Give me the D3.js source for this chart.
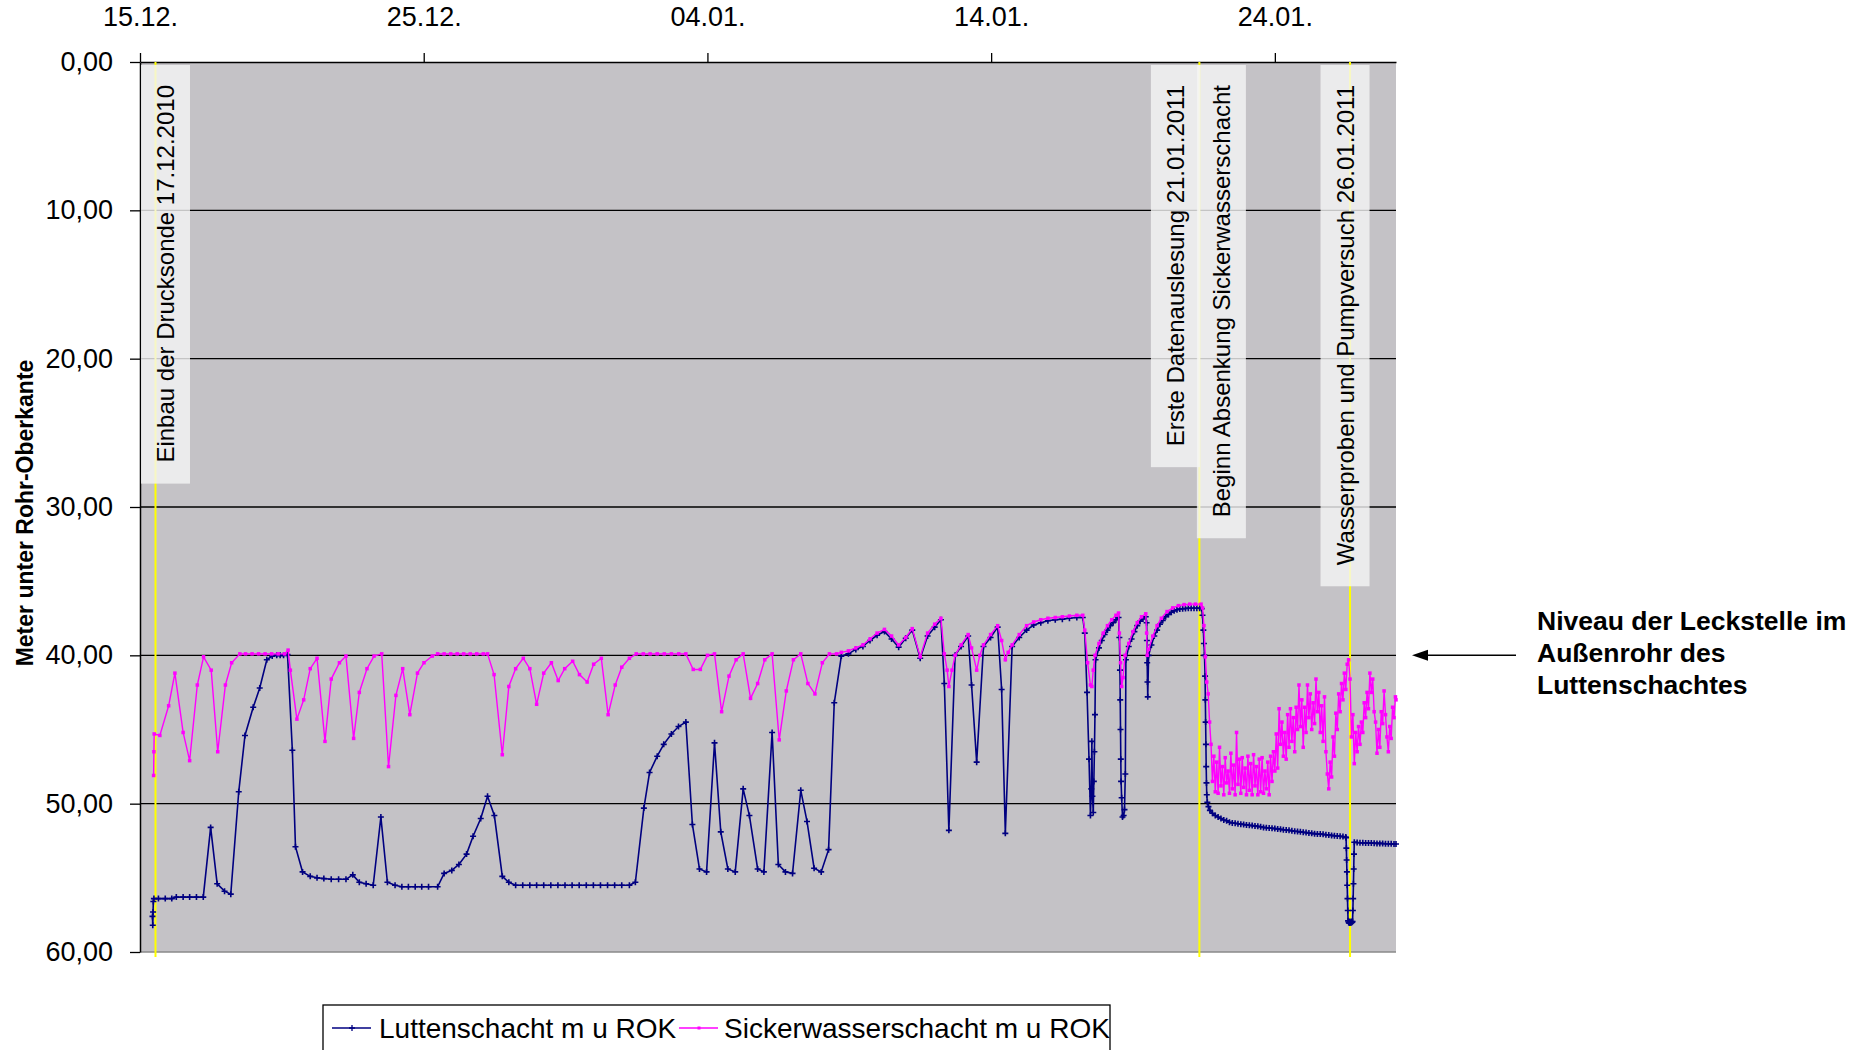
<!DOCTYPE html>
<html lang="de">
<head>
<meta charset="UTF-8">
<title>Luttenschacht / Sickerwasserschacht</title>
<script src="https://d3js.org/d3.v7.min.js"></script>
<style>
  body { margin: 0; background: #fff; }
  svg { display: block; font-family: Arial, "Liberation Sans", sans-serif; }
</style>
</head>
<body>
<svg id="chart"></svg>
<script>
// Zeit in Tagen ab 15.12.2010 00:00, Werte in Meter unter Rohr-Oberkante
var lutten = [
  [0.44,57.6],[0.45,58.2],[0.46,57.3],[0.47,56.6],[0.49,56.4],
  [0.65,56.4],[0.89,56.4],[1.12,56.4],[1.28,56.3],[1.52,56.3],[1.75,56.3],[1.99,56.3],[2.23,56.3],
  [2.49,51.6],[2.72,55.4],[2.98,55.9],[3.2,56.1],[3.48,49.2],[3.7,45.4],[3.99,43.5],[4.22,42.2],
  [4.47,40.3],[4.66,40.05],[4.82,40.0],[4.94,40.0],[5.06,40.0],[5.2,39.95],
  [5.37,46.4],[5.48,52.9],[5.73,54.6],[6.0,54.9],[6.24,55.0],[6.48,55.05],[6.74,55.1],[7.0,55.1],
  [7.26,55.1],[7.5,54.8],[7.73,55.3],[7.97,55.4],[8.22,55.5],
  [8.49,50.9],[8.72,55.3],[8.99,55.5],[9.23,55.6],[9.46,55.6],[9.7,55.6],[9.93,55.6],[10.17,55.6],[10.49,55.6],
  [10.72,54.7],[10.99,54.5],[11.24,54.1],[11.51,53.4],[11.74,52.2],[12.01,51.0],[12.25,49.5],[12.49,50.8],
  [12.77,54.9],[13.0,55.3],
  [13.24,55.5],[13.49,55.5],[13.74,55.5],[13.98,55.5],[14.23,55.5],[14.48,55.5],[14.73,55.5],[14.98,55.5],
  [15.23,55.5],[15.48,55.5],[15.73,55.5],[15.98,55.5],[16.23,55.5],[16.48,55.5],[16.73,55.5],[16.98,55.5],[17.25,55.5],
  [17.46,55.3],[17.76,50.3],[17.96,47.9],[18.23,46.8],[18.46,46.0],[18.73,45.3],[18.98,44.8],[19.24,44.5],
  [19.47,51.4],[19.72,54.4],[19.97,54.6],[20.25,45.9],[20.47,51.9],[20.72,54.4],[20.98,54.6],
  [21.26,49.0],[21.48,50.8],[21.77,54.4],[21.99,54.6],[22.28,45.2],[22.5,54.1],[22.75,54.6],[23.0,54.7],
  [23.29,49.1],[23.51,51.2],[23.76,54.35],[24.01,54.6],[24.27,53.1],[24.47,43.2],[24.72,40.05],[24.97,39.9],
  [25.23,39.6],[25.48,39.4],[25.73,39.0],[25.98,38.65],[26.24,38.4],[26.49,38.9],[26.74,39.45],[26.99,38.85],
  [27.22,38.3],[27.5,40.2],[27.76,38.7],[28.01,38.1],[28.23,37.6],
  [28.35,41.9],[28.51,51.8],[28.73,40.0],[28.94,39.4],[29.19,38.7],[29.31,42.0],[29.49,47.2],[29.73,39.4],
  [29.98,38.8],[30.23,38.1],[30.37,42.3],[30.5,52.0],[30.74,39.4],[30.99,38.8],[31.25,38.3],[31.5,37.96],
  [31.75,37.8],[32.0,37.67],[32.26,37.6],[32.51,37.56],[32.76,37.5],[33.02,37.45],[33.23,37.45],
  [33.3,38.5],[33.38,42.5],[33.45,47.0],[33.5,50.8],[33.53,49.0],[33.55,45.8],[33.57,49.5],[33.6,50.6],
  [33.62,48.5],[33.64,46.5],[33.66,44.0],[33.68,40.3],
  [33.8,39.5],[33.9,39.0],[34.0,38.6],[34.1,38.3],[34.2,38.0],[34.3,37.8],[34.4,37.6],[34.49,37.45],
  [34.52,38.8],[34.54,41.0],[34.55,43.0],[34.56,45.0],[34.57,47.0],[34.58,48.5],[34.6,49.6],[34.63,50.9],
  [34.67,50.8],[34.7,50.4],[34.73,48.0],[34.75,40.3],
  [34.85,39.4],[34.95,38.9],[35.05,38.4],[35.15,38.0],[35.25,37.7],[35.35,37.55],[35.45,37.4],
  [35.48,37.8],[35.49,39.0],[35.5,40.5],[35.51,41.8],[35.52,42.8],[35.55,40.0],
  [35.65,39.3],[35.75,38.7],[35.85,38.3],[35.95,37.9],[36.05,37.65],[36.15,37.4],[36.25,37.25],[36.35,37.1],
  [36.45,37.0],[36.55,36.93],[36.65,36.88],[36.75,36.86],[36.85,36.84],[36.95,36.83],[37.05,36.83],
  [37.15,36.83],[37.25,36.83],[37.35,36.83],[37.42,36.85],
  [37.45,37.3],[37.48,38.3],[37.5,39.2],[37.52,40.0],[37.54,41.4],[37.55,43.0],[37.56,44.5],[37.57,46.0],
  [37.58,47.5],[37.59,48.6],[37.6,49.4],[37.62,49.9],[37.66,50.2],[37.71,50.45],
  [37.8,50.65],[37.9,50.8],[38.0,50.9],[38.1,51.0],[38.2,51.1],[38.3,51.15],[38.4,51.25],[38.5,51.3],
  [38.6,51.32],[38.7,51.35],[38.8,51.38],[38.9,51.4],[39.0,51.43],[39.1,51.46],[39.2,51.48],[39.3,51.5],
  [39.4,51.53],[39.5,51.56],[39.6,51.6],[39.7,51.62],[39.8,51.64],[39.9,51.66],[40.0,51.68],[40.1,51.7],
  [40.2,51.73],[40.3,51.76],[40.4,51.78],[40.5,51.8],[40.6,51.83],[40.7,51.86],[40.8,51.88],[40.9,51.9],
  [41.0,51.93],[41.1,51.95],[41.2,51.97],[41.3,52.0],[41.4,52.02],[41.5,52.04],[41.6,52.05],[41.7,52.07],
  [41.8,52.1],[41.9,52.12],[42.0,52.14],[42.1,52.16],[42.2,52.18],[42.3,52.2],[42.4,52.22],[42.5,52.25],
  [42.51,52.3],[42.52,53.0],[42.53,53.8],[42.54,54.6],[42.55,55.5],[42.56,56.4],[42.57,57.2],[42.58,57.9],
  [42.6,58.0],[42.62,58.05],[42.64,57.95],[42.66,58.0],[42.68,58.05],[42.7,57.95],[42.72,58.0],[42.74,57.95],
  [42.75,57.2],[42.76,56.4],[42.77,55.4],[42.78,54.4],[42.79,53.4],[42.8,52.6],
  [42.9,52.62],[43.0,52.63],[43.1,52.64],[43.2,52.65],[43.3,52.66],[43.4,52.66],[43.5,52.67],[43.6,52.68],
  [43.7,52.68],[43.8,52.69],[43.9,52.7],[44.0,52.7],[44.1,52.71],[44.2,52.72],[44.27,52.72]
];

var sicker = [
  [0.48,48.1],[0.49,46.5],[0.5,45.3],[0.7,45.4],[1.01,43.4],[1.23,41.2],[1.52,45.2],[1.75,47.1],
  [2.02,42.0],[2.24,40.1],[2.51,41.0],[2.74,46.5],[3.01,42.0],[3.23,40.5],[3.52,39.9],[3.72,39.9],
  [3.95,39.9],[4.18,39.9],[4.41,39.9],[4.64,39.9],[4.87,39.9],[5.1,39.9],[5.22,39.65],
  [5.3,41.0],[5.53,44.3],[5.77,43.0],[6.0,40.9],[6.24,40.2],[6.52,45.8],[6.74,41.6],[7.03,40.5],
  [7.26,40.05],[7.53,45.6],[7.73,42.5],[8.0,40.9],[8.25,40.05],[8.52,39.9],[8.76,47.5],[9.02,42.7],
  [9.26,40.9],[9.51,44.0],[9.78,41.2],[10.01,40.5],[10.3,40.05],
  [10.49,39.9],[10.72,39.9],[10.95,39.9],[11.18,39.9],[11.41,39.9],[11.64,39.9],[11.87,39.9],[12.1,39.9],[12.25,39.9],
  [12.48,41.3],[12.77,46.7],[13.0,42.1],[13.24,40.9],[13.51,40.2],[13.74,40.9],[13.98,43.3],[14.23,41.2],
  [14.5,40.5],[14.74,41.7],[14.97,40.9],[15.25,40.4],[15.49,41.3],[15.76,41.8],[15.99,40.6],[16.26,40.2],
  [16.5,44.0],[16.75,42.0],[16.98,40.8],[17.25,40.2],
  [17.49,39.9],[17.74,39.9],[17.98,39.9],[18.23,39.9],[18.48,39.9],[18.73,39.9],[18.99,39.9],[19.24,39.9],
  [19.5,40.95],[19.75,40.95],[20.0,40.0],[20.25,39.9],[20.5,43.8],[20.76,41.4],[21.01,40.3],[21.26,39.9],
  [21.52,42.9],[21.77,41.9],[22.02,40.3],[22.28,39.9],[22.53,45.7],[22.78,42.4],[23.03,40.3],[23.29,39.9],
  [23.54,41.9],[23.79,42.6],[24.05,40.5],[24.3,39.9],[24.55,39.9],
  [24.72,39.8],[24.97,39.7],[25.23,39.5],[25.48,39.3],[25.73,38.9],[25.98,38.5],[26.24,38.25],[26.49,38.7],
  [26.74,39.3],[26.99,38.8],[27.22,38.2],[27.5,40.1],[27.76,38.5],[28.01,37.9],[28.23,37.5],
  [28.35,39.9],[28.45,41.0],[28.51,42.1],[28.62,41.0],[28.73,40.0],[28.94,39.3],[29.19,38.6],[29.31,39.5],
  [29.49,41.0],[29.6,40.0],[29.73,39.3],[29.98,38.6],[30.23,38.0],[30.37,39.0],[30.5,40.3],[30.6,39.8],
  [30.74,39.3],[30.99,38.6],[31.25,38.0],[31.5,37.75],[31.75,37.6],[32.0,37.5],[32.26,37.45],[32.51,37.4],
  [32.76,37.35],[33.02,37.3],[33.23,37.3],
  [33.3,38.3],[33.4,40.5],[33.5,42.0],[33.55,42.1],[33.6,41.0],[33.66,40.0],
  [33.8,39.2],[33.95,38.5],[34.1,38.0],[34.25,37.6],[34.4,37.3],[34.49,37.15],
  [34.52,38.5],[34.56,40.5],[34.6,42.1],[34.65,41.5],[34.72,40.0],
  [34.85,39.2],[35.0,38.4],[35.15,37.8],[35.3,37.4],[35.45,37.2],
  [35.48,38.5],[35.5,40.0],[35.55,39.6],[35.7,38.7],[35.85,38.0],[36.0,37.5],[36.2,37.05],[36.4,36.8],
  [36.6,36.65],[36.8,36.58],[37.0,36.55],[37.2,36.55],[37.4,36.55],
  [37.45,36.8],[37.5,38.0],[37.55,40.1],[37.6,41.8],[37.65,42.6],[37.7,44.5],
  [37.75,46.0],[37.8,48.5],[37.85,46.8],[37.9,49.2],[37.95,47.2],[38.0,49.3],[38.05,46.2],[38.1,48.8],
  [38.15,47.5],[38.2,49.4],[38.25,46.9],[38.3,48.6],[38.35,47.8],[38.4,49.3],[38.45,46.6],[38.5,49.0],
  [38.55,47.4],[38.6,49.4],[38.65,45.2],[38.7,48.7],[38.75,47.0],[38.8,49.3],[38.85,46.9],[38.9,48.9],
  [38.95,47.6],[39.0,49.4],[39.05,46.8],[39.1,49.1],[39.15,47.3],[39.2,49.4],[39.25,46.7],[39.3,48.8],
  [39.35,47.5],[39.4,49.4],[39.45,47.0],[39.5,49.2],[39.55,46.9],[39.6,49.3],[39.65,47.8],[39.7,49.0],
  [39.75,47.2],[39.8,49.4],[39.85,46.8],[39.9,48.5],[39.95,46.5],[40.0,47.8],
  [40.05,45.3],[40.1,47.6],[40.15,43.6],[40.2,46.0],[40.25,44.5],[40.3,46.8],[40.35,45.2],[40.4,47.0],
  [40.45,44.0],[40.5,46.2],[40.55,43.6],[40.6,45.8],[40.65,44.2],[40.7,46.5],[40.75,43.5],[40.8,45.0],
  [40.85,42.0],[40.9,44.8],[40.95,43.0],[41.0,46.2],[41.05,43.5],[41.1,45.2],[41.15,42.0],[41.2,44.2],
  [41.25,42.6],[41.3,45.0],[41.35,43.2],[41.4,44.6],[41.45,41.6],[41.5,43.8],[41.55,42.5],[41.6,45.2],
  [41.65,43.4],[41.7,45.8],[41.75,42.8],[41.8,46.5],[41.85,48.0],[41.9,49.0],[41.95,47.2],[42.0,48.2],
  [42.05,45.5],[42.1,46.8],[42.15,43.9],[42.2,45.0],[42.25,42.6],[42.3,43.8],[42.35,41.9],[42.4,43.0],
  [42.45,41.2],[42.5,42.3],[42.55,40.6],[42.6,40.3],[42.65,41.6],[42.7,45.5],[42.75,44.0],[42.8,47.3],
  [42.85,45.2],[42.9,46.5],[42.95,44.8],[43.0,46.0],[43.05,44.5],[43.1,45.2],[43.15,43.2],[43.2,44.2],
  [43.25,42.5],[43.3,43.6],[43.35,41.2],[43.4,42.5],[43.45,41.6],[43.5,43.8],[43.55,44.5],[43.6,46.6],
  [43.65,45.0],[43.7,46.2],[43.75,43.8],[43.8,44.6],[43.85,42.4],[43.9,44.0],[43.95,45.5],[44.0,46.5],
  [44.05,44.8],[44.1,45.6],[44.15,43.5],[44.2,44.2],[44.25,42.8],[44.27,43.0]
];

var seriesNames = ["Luttenschacht m u ROK", "Sickerwasserschacht m u ROK"];
var tickDays = [0, 10, 20, 30, 40];
var yTicks = [0, 10, 20, 30, 40, 50, 60];
var lastDay = 44.27;
var eventDays = [0.546, 37.34, 42.65];   // gelbe Linien
var notes = ["Einbau der Drucksonde 17.12.2010", "Erste Datenauslesung 21.01.2011",
             "Beginn Absenkung Sickerwasserschacht", "Wasserproben und Pumpversuch 26.01.2011"];
var noteEvent = [0, 1, 1, 2];
var leakLevel = 40;
var leakText = ["Niveau der Leckstelle im", "Außenrohr des", "Luttenschachtes"];

var W = 1861, H = 1050,
  L = 140, R = 1396, T = 62, B = 952,
  blue = "#000080", pink = "#ff00ff";

var svg = d3.select("#chart").attr("width", W).attr("height", H);

var start = new Date(2010, 11, 15);
function toDate(d) { return new Date(start.getTime() + d * 864e5); }

var x = d3.scaleTime().domain([start, toDate(lastDay)]).range([L, R]);
var y = d3.scaleLinear().domain([0, 60]).range([T, B]);

var de = d3.formatLocale({decimal: ",", thousands: ".", grouping: [3], currency: ["", " €"]});
var fmt = de.format(".2f");

// Zeichenfläche
svg.append("rect").attr("x", L).attr("y", T).attr("width", R - L).attr("height", B - T)
  .attr("fill", "#c4c2c6");
svg.append("line").attr("x1", L).attr("x2", R).attr("y1", B).attr("y2", B)
  .attr("stroke", "#8a8a8a").attr("stroke-width", 1.5);

svg.append("g").selectAll("line").data(yTicks.slice(1, -1)).join("line")
  .attr("x1", L).attr("x2", R)
  .attr("y1", d => y(d)).attr("y2", d => y(d))
  .attr("stroke", "#000").attr("stroke-width", 1.3);

// Achsen
var xAxis = svg.append("g").attr("transform", "translate(0," + T + ")")
  .call(d3.axisTop(x).tickValues(tickDays.map(toDate))
    .tickFormat(d3.timeFormat("%d.%m.")).tickSize(9).tickSizeOuter(0).tickPadding(27));
var yAxis = svg.append("g").attr("transform", "translate(" + L + ",0)")
  .call(d3.axisLeft(y).tickValues(yTicks).tickFormat(fmt).tickSize(10).tickSizeOuter(0).tickPadding(17));

[xAxis, yAxis].forEach(function(a) {
  a.attr("font-family", null).attr("font-size", null);
  a.select(".domain").attr("stroke", "#000").attr("stroke-width", 1.5);
  a.selectAll(".tick line").attr("stroke", "#000").attr("stroke-width", 1.3);
  a.selectAll(".tick text").attr("fill", "#000").style("font-size", "27px");
});

svg.append("text")
  .attr("transform", "translate(33,513) rotate(-90)")
  .attr("text-anchor", "middle")
  .style("font-size", "23px").style("font-weight", "bold")
  .text("Meter unter Rohr-Oberkante");

// gelbe Ereignislinien
svg.append("g").selectAll("line").data(eventDays).join("line")
  .attr("x1", d => x(toDate(d))).attr("x2", d => x(toDate(d)))
  .attr("y1", T).attr("y2", 957)
  .attr("stroke", "#ffff00").attr("stroke-width", 2);

// Beschriftungskästen (Lage relativ zur Ereignislinie)
var noteShift = [10, -24, 22, -5];
notes.forEach(function(t, i) {
  var cx = x(toDate(eventDays[noteEvent[i]])) + noteShift[i];
  var g = svg.append("g");
  var box = g.append("rect");
  var txt = g.append("text").style("font-size", "24px").text(t);
  var len = txt.node().getComputedTextLength();
  var bottom = 85 + len + 21;
  box.attr("x", cx - 24.5).attr("y", 65).attr("width", 49).attr("height", bottom - 65)
    .attr("fill", "#f5f5f5").attr("fill-opacity", 0.8);
  txt.attr("transform", "translate(" + (cx + 8.5) + "," + (bottom - 21) + ") rotate(-90)");
});

// Datenreihen
var line = d3.line().x(d => x(toDate(d[0]))).y(d => y(d[1]));
var cross = "M-3,0H3M0,-3V3";

function drawSeries(data, color, width, isCross) {
  var g = svg.append("g");
  g.append("path").datum(data).attr("d", line)
    .attr("fill", "none").attr("stroke", color).attr("stroke-width", width);
  if (isCross) {
    g.selectAll("path.m").data(data).join("path").attr("class", "m")
      .attr("d", cross)
      .attr("transform", d => "translate(" + x(toDate(d[0])) + "," + y(d[1]) + ")")
      .attr("stroke", color).attr("stroke-width", 1.6);
  } else {
    g.selectAll("rect").data(data).join("rect")
      .attr("x", d => x(toDate(d[0])) - 1.75).attr("y", d => y(d[1]) - 1.75)
      .attr("width", 3.5).attr("height", 3.5).attr("fill", color);
  }
}
drawSeries(lutten, blue, 1.6, true);
drawSeries(sicker, pink, 1.4, false);

// Hinweis Leckstelle
var ly = y(leakLevel);
svg.append("line").attr("x1", 1426).attr("x2", 1516).attr("y1", ly).attr("y2", ly)
  .attr("stroke", "#000").attr("stroke-width", 1.5);
svg.append("path").attr("d", "M1412," + ly + "L1428," + (ly - 5.5) + "L1428," + (ly + 5.5) + "Z")
  .attr("fill", "#000");
svg.append("g").selectAll("text").data(leakText).join("text")
  .attr("x", 1537).attr("y", (d, i) => ly - 25 + i * 32)
  .style("font-size", "26.5px").style("font-weight", "bold")
  .text(d => d);

// Legende
var leg = svg.append("g");
leg.append("rect").attr("x", 323).attr("y", 1005).attr("width", 787).attr("height", 70)
  .attr("fill", "#fff").attr("stroke", "#000").attr("stroke-width", 1.3);
var legX = [332, 679], legText = [379, 724];
seriesNames.forEach(function(n, i) {
  var c = i === 0 ? blue : pink;
  leg.append("line").attr("x1", legX[i]).attr("x2", legX[i] + 39).attr("y1", 1028).attr("y2", 1028)
    .attr("stroke", c).attr("stroke-width", 1.5);
  if (i === 0) {
    leg.append("path").attr("d", cross).attr("transform", "translate(" + (legX[i] + 20) + ",1028)")
      .attr("stroke", c).attr("stroke-width", 1.3);
  } else {
    leg.append("rect").attr("x", legX[i] + 18.5).attr("y", 1026.5).attr("width", 3).attr("height", 3).attr("fill", c);
  }
  leg.append("text").attr("x", legText[i]).attr("y", 1038).style("font-size", "28px").text(n);
});
</script>
</body>
</html>
